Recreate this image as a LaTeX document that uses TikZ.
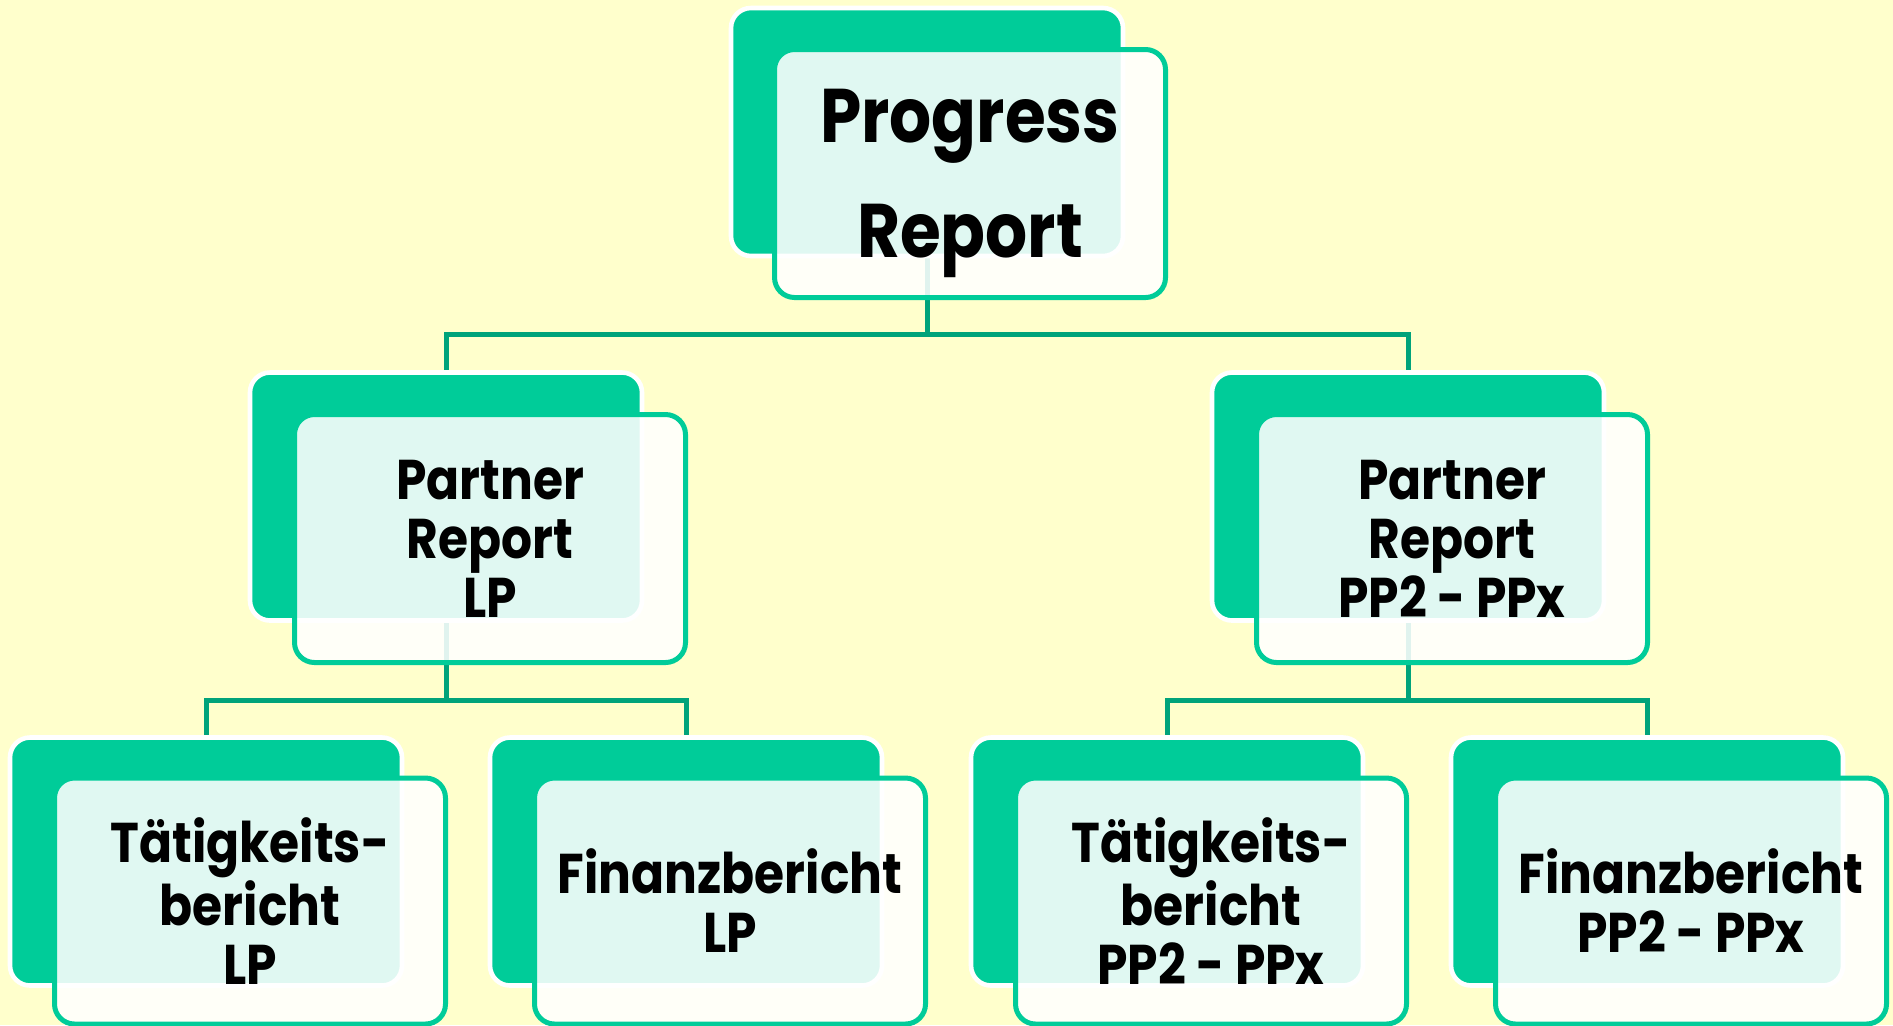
\documentclass[tikz,border=0pt]{standalone}
\usepackage{fontspec}
\setmainfont{Poppins}[FakeStretch=0.87]
\definecolor{bg}{HTML}{FFFFCC}
\definecolor{boxgreen}{HTML}{00CC99}
\definecolor{conngreen}{HTML}{00A37A}
\begin{document}
\begin{tikzpicture}[x=0.5pt,y=-0.5pt,
 backbox/.style={rectangle, rounded corners=10pt, fill=boxgreen, draw=white, line width=2.3pt, minimum width=196pt, minimum height=124pt, inner sep=0pt},
 frontbox/.style={rectangle, rounded corners=10pt, fill=white, fill opacity=0.88, text opacity=1, draw=boxgreen, line width=2.5pt, minimum width=195.5pt, minimum height=124pt, inner sep=0pt, align=center, font=\bfseries\fontsize{28}{29.5}\selectfont},
 lowfront/.style={frontbox, minimum height=123pt},
 bigtext/.style={font=\bfseries\fontsize{38}{57.5}\selectfont, text depth=0pt},
 conn/.style={draw=conngreen, line width=2.5pt}]
\useasboundingbox[fill=bg] (0,0) rectangle (1893,1025);
\begin{scope}
\clip (0,0) rectangle (1893,1025);
% back boxes positions (coordinates for connectors)
\coordinate (busA) at (0,334);
\coordinate (busB) at (0,700);
\node[backbox, draw=none, fill=none] (top-b) at (927,132) {};
\node[backbox, draw=none, fill=none] (ml-b) at (446,496.5) {};
\node[backbox, draw=none, fill=none] (mr-b) at (1408,496.5) {};
\node[backbox, draw=none, fill=none] (b1-b) at (206,861.5) {};
\node[backbox, draw=none, fill=none] (b2-b) at (686,861.5) {};
\node[backbox, draw=none, fill=none] (b3-b) at (1167,861.5) {};
\node[backbox, draw=none, fill=none] (b4-b) at (1647,861.5) {};
% connectors
\draw[conn] (top-b.south) -- (top-b.south |- busA);
\draw[conn] (ml-b.north) |- (top-b.south |- busA) -| (mr-b.north);
\draw[conn] (ml-b.south) -- (ml-b.south |- busB);
\draw[conn] (b1-b.north) |- (ml-b.south |- busB) -| (b2-b.north);
\draw[conn] (mr-b.south) -- (mr-b.south |- busB);
\draw[conn] (b3-b.north) |- (mr-b.south |- busB) -| (b4-b.north);
% visible back boxes
\node[backbox] (top-bk) at (top-b) {};
\node[backbox] (ml-bk) at (ml-b) {};
\node[backbox] (mr-bk) at (mr-b) {};
\node[backbox] (b1-bk) at (b1-b) {};
\node[backbox] (b2-bk) at (b2-b) {};
\node[backbox] (b3-bk) at (b3-b) {};
\node[backbox] (b4-bk) at (b4-b) {};
% front boxes with text
\node[frontbox, bigtext] (top) at (970,173.5) {Progress\\Report};
\node[frontbox] (ml) at (490,538.5) {Partner\\Report\\LP};
\node[frontbox] (mr) at (1452,538.5) {Partner\\Report\\PP2 - PPx};
\node[lowfront] (b1) at (250,901) {Tätigkeits-\\bericht\\LP};
\node[lowfront] (b2) at (730,901) {Finanzbericht\\LP};
\node[lowfront] (b3) at (1211,901) {Tätigkeits-\\bericht\\PP2 - PPx};
\node[lowfront] (b4) at (1691,901) {Finanzbericht\\PP2 - PPx};
\end{scope}
\end{tikzpicture}
\end{document}
